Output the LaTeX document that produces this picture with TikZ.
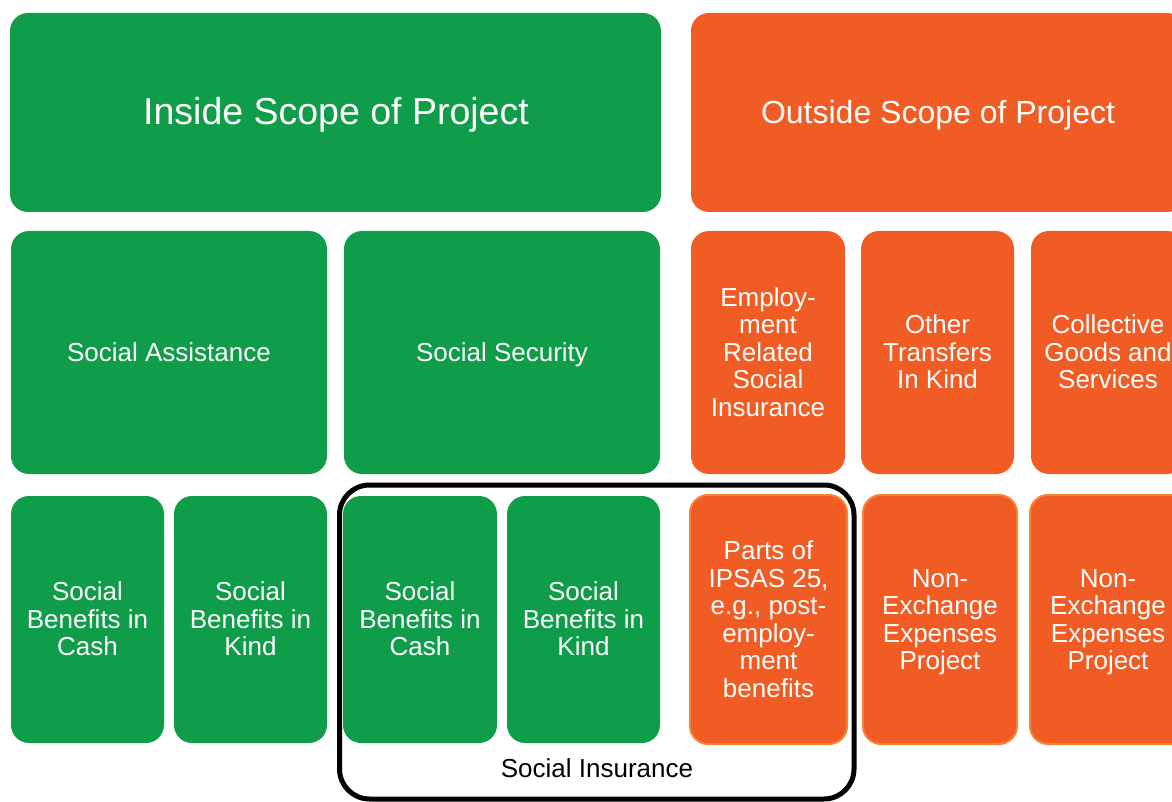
\documentclass[tikz,border=0pt]{standalone}
\usepackage{fontspec}
\setmainfont{Liberation Sans}
\definecolor{gr}{RGB}{16,157,74}
\definecolor{org}{RGB}{241,91,36}
\definecolor{orgb}{RGB}{246,132,52}
\begin{document}
\begin{tikzpicture}[x=1pt,y=-1pt,
  box/.style={rounded corners=18pt,draw=none},
  gbox/.style={box,fill=gr},
  obox/.style={box,fill=org},
  obbox/.style={box,fill=org,draw=orgb,line width=2pt},
  lbl/.style={text=white,align=center,font=\fontsize{26}{27.5}\selectfont,inner sep=0pt},
  frame/.style={draw=black,line width=5pt,rounded corners=30pt}]
\useasboundingbox (0,0) rectangle (1172,802);
\clip (0,0) rectangle (1172,802);
% top row
\fill[gbox] (10,13) rectangle (661,212);
\node[lbl,anchor=base,font=\fontsize{37.5}{40}\selectfont] (tin) at (336,125) {Inside Scope of Project};
\fill[obox] (691,13) rectangle (1185,212);
\node[lbl,anchor=base,font=\fontsize{32}{36}\selectfont] (tout) at (938,124) {Outside Scope of Project};
% second row
\fill[gbox] (11,231) rectangle (327,474);
\node[lbl,anchor=base] (sa) at (169,361) {Social Assistance};
\fill[gbox] (344,231) rectangle (660,474);
\node[lbl,anchor=base] (ss) at (502,361) {Social Security};
\fill[obox] (691,231) rectangle (845,474);
\node[lbl] (er) at (768,352) {Employ-\\ment\\Related\\Social\\Insurance};
\fill[obox] (861,231) rectangle (1014,474);
\node[lbl] (ot) at (937.5,352) {Other\\Transfers\\In Kind};
\fill[obox] (1031,231) rectangle (1185,474);
\node[lbl] (cg) at (1108,352) {Collective\\Goods and\\Services};
% third row
\fill[gbox] (11,496) rectangle (164,743);
\node[lbl] (b1) at (87.5,619) {Social\\Benefits in\\Cash};
\fill[gbox] (174,496) rectangle (327,743);
\node[lbl] (b2) at (250.5,619) {Social\\Benefits in\\Kind};
\fill[gbox] (343,496) rectangle (497,743);
\node[lbl] (b3) at (420,619) {Social\\Benefits in\\Cash};
\fill[gbox] (507,496) rectangle (660,743);
\node[lbl] (b4) at (583.5,619) {Social\\Benefits in\\Kind};
\draw[obbox] (690,495) rectangle (847,744);
\node[lbl] (b5) at (768.5,619) {Parts of\\IPSAS 25,\\e.g., post-\\employ-\\ment\\benefits};
\draw[obbox] (863,495) rectangle (1017,744);
\node[lbl] (b6) at (940,622) {Non-\\Exchange\\Expenses\\Project};
\draw[obbox] (1030,495) rectangle (1188,744);
\node[lbl] (b7) at (1108,622) {Non-\\Exchange\\Expenses\\Project};
% social insurance frame
\draw[frame] (339.5,485) rectangle (854,799);
\node[lbl,anchor=base,text=black] (si) at (597,777) {Social Insurance};
\end{tikzpicture}
\end{document}
